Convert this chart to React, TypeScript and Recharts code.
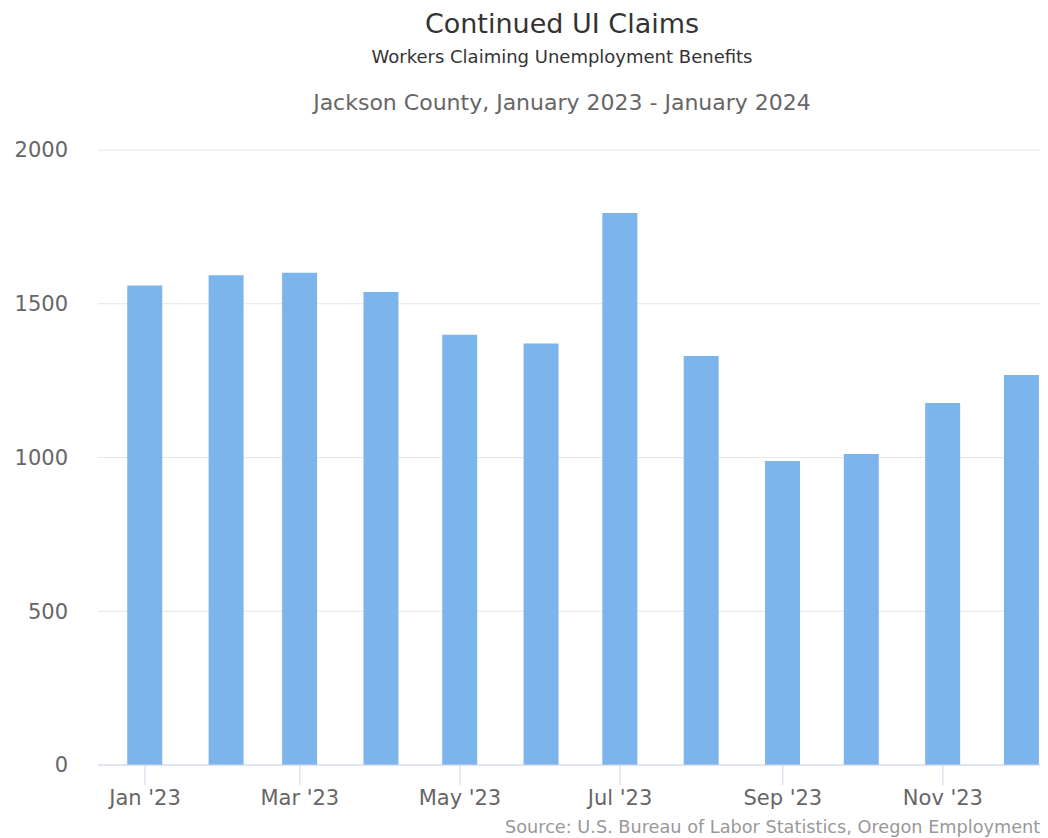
import { BarChart, Bar, XAxis, YAxis, CartesianGrid } from 'recharts';

// Month starts (bars are centred on the 1st of each month, time axis)
const MONTHS = [
  '2023-01-01', '2023-02-01', '2023-03-01', '2023-04-01', '2023-05-01', '2023-06-01',
  '2023-07-01', '2023-08-01', '2023-09-01', '2023-10-01', '2023-11-01', '2023-12-01',
];
const CLAIMS = [1559, 1593, 1601, 1538, 1399, 1371, 1795, 1330, 989, 1011, 1177, 1268];

const TICK_DATES = ['2023-01-01', '2023-03-01', '2023-05-01', '2023-07-01', '2023-09-01', '2023-11-01'];
const TICK_LABELS = ["Jan '23", "Mar '23", "May '23", "Jul '23", "Sep '23", "Nov '23"];
const Y_TICKS = [0, 500, 1000, 1500, 2000];

const START = Date.parse('2023-01-01');
const dayOf = (s: string) => (Date.parse(s) - START) / 86400000;

const data = MONTHS.map((m, i) => ({ day: dayOf(m), claims: CLAIMS[i] }));
const xTicks = TICK_DATES.map(dayOf);
const labelFor = (v: number) => TICK_LABELS[xTicks.indexOf(v)] ?? '';

const FONT = '"DejaVu Sans", sans-serif';

export default function App() {
  return (
    <div style={{ position: 'relative', width: 1040, height: 830, overflow: 'hidden', fontFamily: FONT }}>
      <style>{'html,body{overflow:hidden}'}</style>
      <BarChart width={1160} height={830} data={data} margin={{ top: 142, right: 18, bottom: 0, left: 0 }}>
        <CartesianGrid vertical={false} stroke="#e6e6e6" />
        <XAxis
          dataKey="day"
          type="number"
          domain={[-17.9, 382.9]}
          ticks={xTicks}
          interval={0}
          tickFormatter={labelFor}
          height={73}
          tickSize={20}
          tickMargin={5}
          axisLine={{ stroke: '#ccd6eb' }}
          tickLine={{ stroke: '#ccd6eb' }}
          tick={{ fill: '#666666', fontSize: 21, fontFamily: FONT }}
        />
        <YAxis
          domain={[0, 2000]}
          ticks={Y_TICKS}
          width={90}
          axisLine={false}
          tickLine={false}
          tickSize={0}
          tickMargin={30}
          tick={{ fill: '#666666', fontSize: 21, fontFamily: FONT }}
        />
        <Bar dataKey="claims" fill="#7cb5ec" barSize={35} isAnimationActive={false} />
      </BarChart>
      <svg width={1040} height={830} style={{ position: 'absolute', left: 0, top: 0, pointerEvents: 'none' }}>
        <text x={554} y={25} textAnchor="middle" fontSize={27} fill="#333333" fontFamily={FONT}>
          Continued UI Claims
        </text>
        <text x={554} y={55} textAnchor="middle" fontSize={18} fill="#333333" fontFamily={FONT}>
          Workers Claiming Unemployment Benefits
        </text>
        <text x={554} y={102} textAnchor="middle" fontSize={22} fill="#666666" fontFamily={FONT}>
          Jackson County, January 2023 - January 2024
        </text>
        <text x={497} y={825} fontSize={17.7} fill="#999999" fontFamily={FONT}>
          Source: U.S. Bureau of Labor Statistics, Oregon Employment Department
        </text>
      </svg>
    </div>
  );
}
